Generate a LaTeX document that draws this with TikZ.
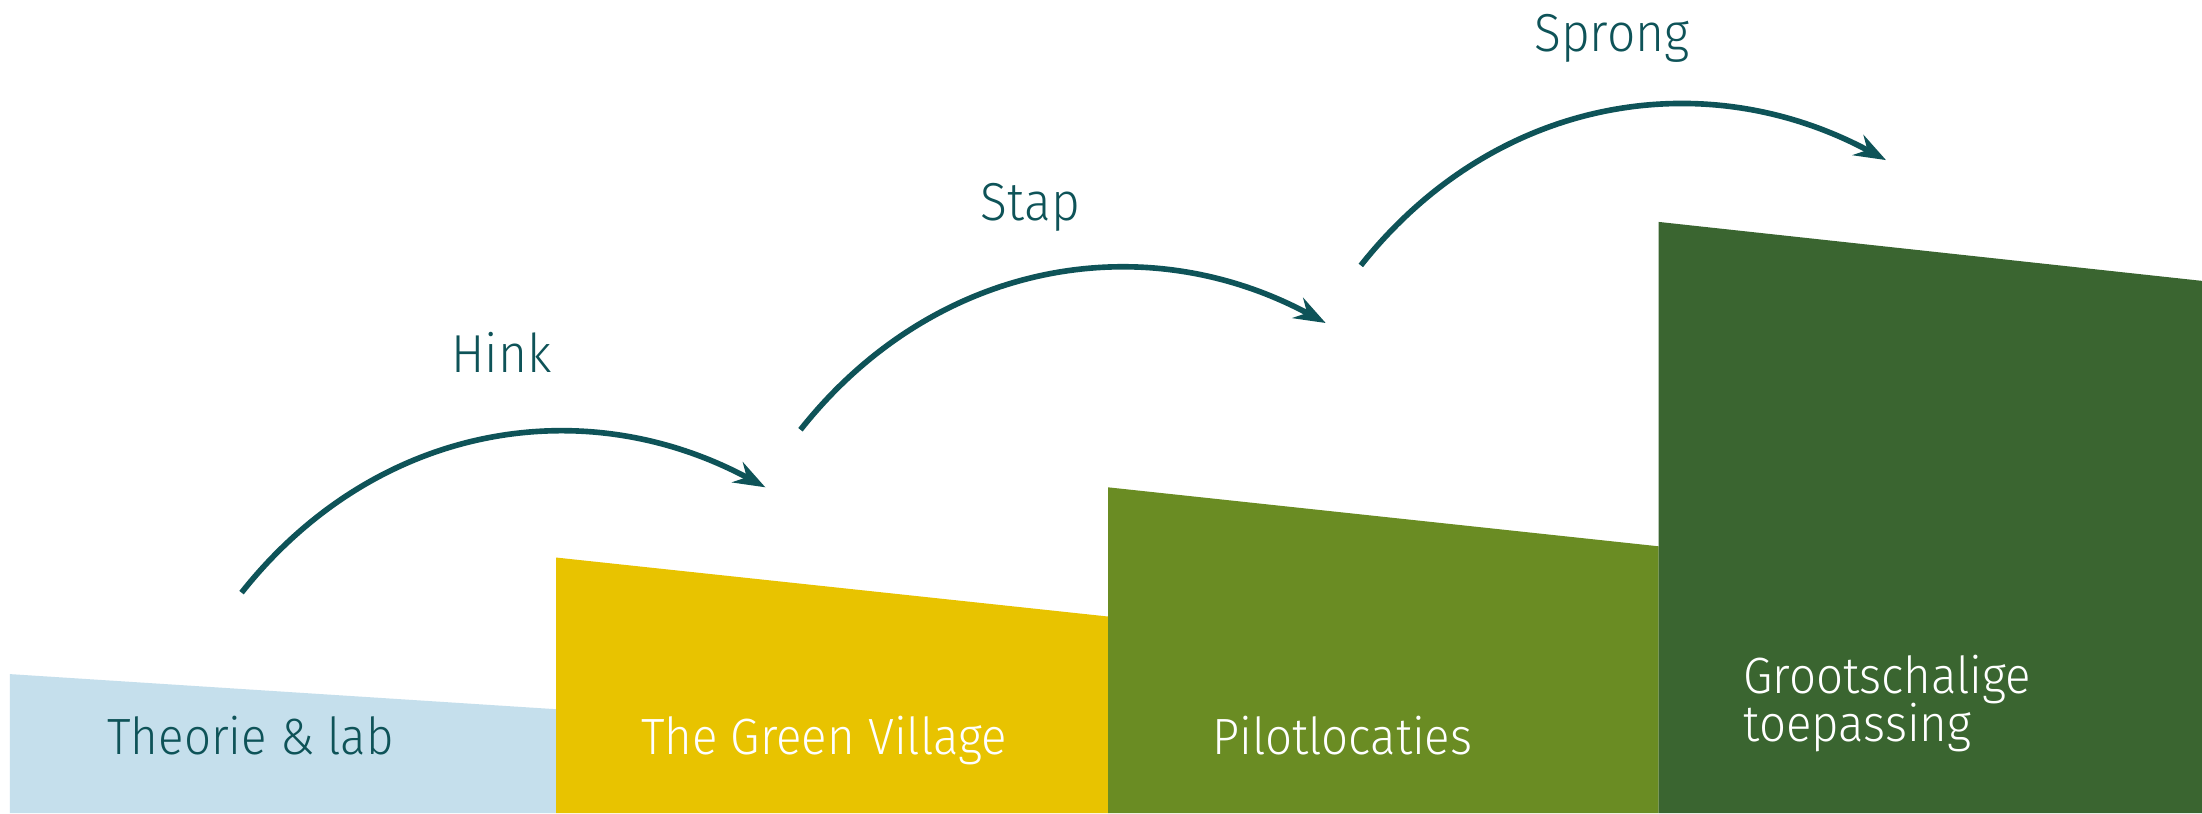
\documentclass[tikz,border=0pt]{standalone}
\usepackage{fontspec}
\setmainfont{Fira Sans Light}[FakeStretch=0.93]
\usetikzlibrary{arrows.meta}
\definecolor{tealtxt}{HTML}{0E5358}
\definecolor{lblue}{HTML}{C5DFEC}
\definecolor{yel}{HTML}{E8C300}
\definecolor{olive2}{HTML}{6A8C23}
\definecolor{dgreen}{HTML}{3A6530}
\tikzset{
  lbl/.style={anchor=base west, inner sep=0pt, font=\fontsize{14.5}{17}\selectfont},
  toplbl/.style={lbl, text=tealtxt, font=\fontsize{15.2}{18}\selectfont},
  hop/.style={draw=tealtxt, line width=1.6pt, -{Stealth[length=9pt,width=6.5pt,inset=3pt]}},
}
\begin{document}
\begin{tikzpicture}[x=0.014043cm,y=-0.014043cm]
\useasboundingbox (0,0) rectangle (1568,579);
\fill[white] (0,0) rectangle (1568,579);
% blocks
\fill[lblue] (7,480) -- (396,505) -- (396,579) -- (7,579) -- cycle;
\fill[yel] (396,397) -- (789,439) -- (789,579) -- (396,579) -- cycle;
\fill[olive2] (789,347) -- (1181,389) -- (1181,579) -- (789,579) -- cycle;
\fill[dgreen] (1181,158) -- (1568,200) -- (1568,579) -- (1181,579) -- cycle;
% block labels
\node[lbl, text=tealtxt] (theorie) at (76,537.6) {Theorie \& lab};
\node[lbl, text=white] (tgv) at (456,537.6) {The Green Village};
\node[lbl, text=white] (pilot) at (863,537.6) {Pilotlocaties};
\node[lbl, text=white] (groot1) at (1241,493.5) {Grootschalige};
\node[lbl, text=white] (groot2) at (1241,528) {toepassing};
% step labels
\node[toplbl] (hink) at (321,265) {Hink};
\node[toplbl] (stap) at (698,157) {Stap};
\node[toplbl] (sprong) at (1092,36.8) {Sprong};
% arrows
\coordinate (a1s) at (172,422);
\coordinate (a1e) at (545,347);
\coordinate (a2s) at (570,306);
\coordinate (a2e) at (944,230);
\coordinate (a3s) at (969,189);
\coordinate (a3e) at (1343,114);
\draw[hop] (a1s) .. controls ++(95,-120) and ++(-130,-70) .. (a1e);
\draw[hop] (a2s) .. controls ++(95,-120) and ++(-130,-70) .. (a2e);
\draw[hop] (a3s) .. controls ++(95,-120) and ++(-130,-70) .. (a3e);
\end{tikzpicture}
\end{document}
